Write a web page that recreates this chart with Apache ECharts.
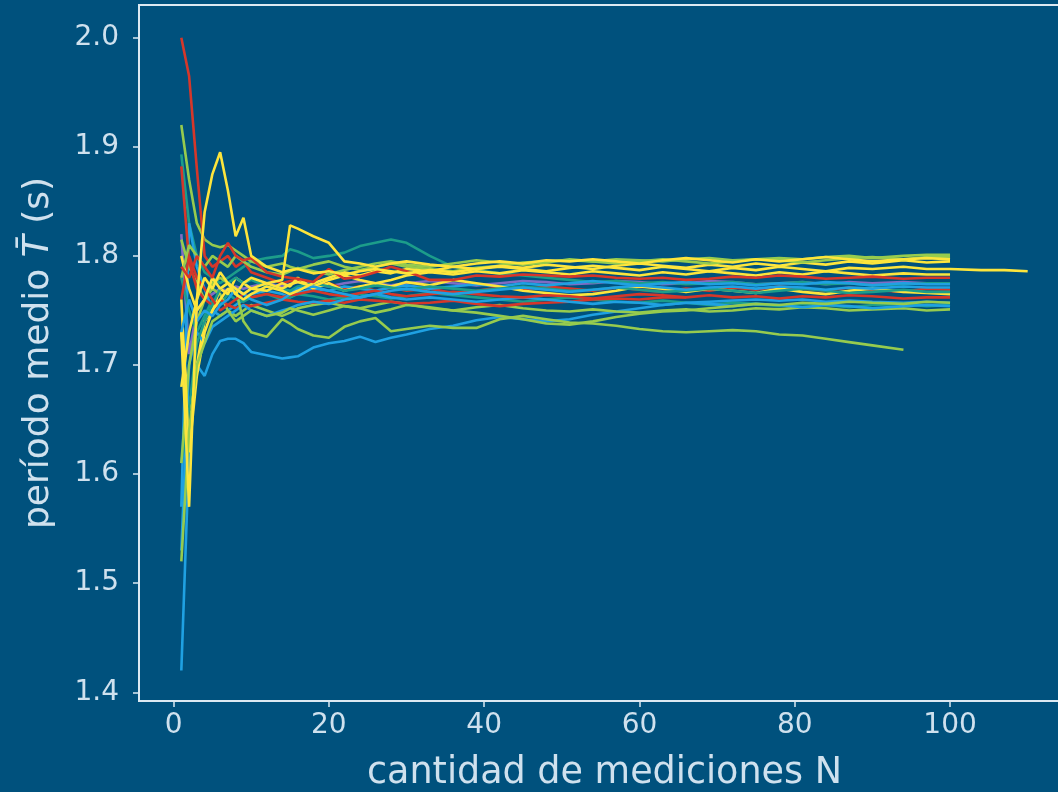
<!DOCTYPE html>
<html><head><meta charset="utf-8">
<script src="https://cdn.jsdelivr.net/npm/echarts@6/dist/echarts.min.js"></script>
<style>html,body{margin:0;padding:0;background:#00517d;}#c{width:1058px;height:792px;}</style>
</head><body><div id="c"></div>
<script>
// measurement counts N at which each running mean is sampled
const N_GRID = [1,2,3,4,5,6,7,8,9,10,
  12,14,15,16,18,20,
  22,24,26,28,30,
  33,36,39,42,45,48,51,54,57,60,
  63,66,69,72,75,78,81,84,87,90,
  94,97,100,
  104,107,110];
const X_TICKS = [0,20,40,60,80,100];
const Y_TICKS = [1.4,1.5,1.6,1.7,1.8,1.9,2.0];

const R1 = [2.000,1.965,1.880,1.800,1.790,1.795,1.800,1.790,1.795,1.785,
 1.780,1.775,1.777,1.778,1.772,1.775,
 1.770,1.772,1.768,1.771,1.768,
 1.770,1.766,1.768,1.771,1.769,1.772,1.770,1.768,1.771,1.769,
 1.767,1.770,1.768,1.771,1.769,1.772,1.770,1.768,1.771,1.769,
 1.767,1.770,1.769];
const R2 = [1.882,1.795,1.770,1.760,1.755,1.760,1.755,1.752,1.755,1.754,
 1.757,1.760,1.759,1.758,1.757,1.759,
 1.757,1.760,1.759,1.758,1.756,
 1.757,1.759,1.756,1.754,1.756,1.757,1.758,1.760,1.761,1.760,
 1.762,1.762];
const R3 = [1.790,1.780,1.800,1.790,1.780,1.800,1.812,1.800,1.796,1.798,
 1.785,1.781,1.780,1.779,1.776,1.788,
 1.779,1.781,1.785,1.790,1.786,
 1.778,1.778,1.782,1.781,1.783,1.782,1.781,1.782,1.780,1.779,
 1.780,1.778,1.779,1.781,1.780,1.782,1.781,1.779,1.780,1.781,
 1.779,1.780,1.780];
const R4 = [1.760,1.800,1.780,1.770,1.760,1.750,1.755,1.760,1.765,1.762,
 1.765,1.762,1.764,1.765,1.768,1.765,
 1.763,1.766,1.768,1.765,1.763,
 1.765,1.767,1.765,1.763,1.762,1.764,1.763,1.761,1.763,1.765,
 1.764,1.762,1.764,1.762,1.763,1.761,1.763,1.762,1.764,1.763,
 1.761,1.762,1.762];
const Y1 = [1.730,1.570,1.760,1.840,1.875,1.895,1.860,1.818,1.835,1.800,
 1.790,1.785,1.787,1.788,1.784,1.786,
 1.783,1.786,1.788,1.786,1.784,
 1.787,1.785,1.788,1.790,1.788,1.786,1.789,1.791,1.789,1.787,
 1.790,1.788,1.786,1.789,1.787,1.790,1.788,1.786,1.789,1.788,
 1.790,1.788,1.788,
 1.787,1.787,1.786];
const Y2 = [1.680,1.730,1.760,1.780,1.770,1.785,1.775,1.770,1.765,1.770,
 1.775,1.778,1.828,1.825,1.818,1.812,
 1.795,1.793,1.790,1.793,1.795,
 1.792,1.790,1.793,1.795,1.793,1.796,1.795,1.797,1.795,1.793,
 1.796,1.798,1.796,1.794,1.797,1.795,1.797,1.799,1.797,1.795,
 1.797,1.798,1.797];
const Y3 = [1.730,1.660,1.700,1.740,1.750,1.770,1.765,1.780,1.775,1.770,
 1.768,1.775,1.772,1.780,1.770,1.775,
 1.768,1.772,1.775,1.772,1.776,
 1.773,1.778,1.775,1.772,1.768,1.766,1.764,1.765,1.768,1.772,
 1.770,1.767,1.770,1.768,1.766,1.770,1.767,1.765,1.768,1.770,
 1.767,1.766,1.765];
const Y4 = [1.760,1.620,1.690,1.730,1.750,1.760,1.770,1.765,1.775,1.780,
 1.775,1.770,1.774,1.776,1.772,1.778,
 1.782,1.778,1.775,1.778,1.782,
 1.785,1.783,1.786,1.784,1.787,1.785,1.783,1.786,1.784,1.782,
 1.785,1.783,1.786,1.784,1.782,1.785,1.783,1.786,1.784,1.782,
 1.784,1.783,1.783];
const Y5 = [1.800,1.770,1.750,1.760,1.780,1.770,1.775,1.765,1.760,1.765,
 1.772,1.768,1.765,1.768,1.775,1.780,
 1.785,1.782,1.786,1.784,1.788,
 1.786,1.790,1.788,1.791,1.789,1.792,1.790,1.788,1.791,1.793,
 1.791,1.789,1.792,1.790,1.793,1.791,1.794,1.792,1.795,1.793,
 1.796,1.794,1.795];
const G1 = [1.920,1.870,1.830,1.815,1.810,1.808,1.810,1.805,1.800,1.795,
 1.790,1.793,1.790,1.788,1.792,1.795,
 1.790,1.787,1.790,1.793,1.790,
 1.788,1.786,1.789,1.791,1.794,1.795,1.796,1.795,1.797,1.796,
 1.795,1.797,1.798,1.796,1.797,1.798,1.797,1.799,1.800,1.798,
 1.800,1.801,1.801];
const G2 = [1.815,1.790,1.775,1.760,1.770,1.765,1.750,1.745,1.750,1.755,
 1.750,1.745,1.748,1.752,1.755,1.757,
 1.754,1.752,1.755,1.758,1.756,
 1.752,1.750,1.753,1.755,1.752,1.750,1.749,1.751,1.749,1.748,
 1.750,1.751,1.749,1.750,1.752,1.751,1.753,1.752,1.750,1.751,
 1.752,1.750,1.751];
const G3 = [1.610,1.700,1.740,1.760,1.775,1.780,1.775,1.770,1.740,1.730,
 1.726,1.742,1.738,1.733,1.727,1.725,
 1.735,1.740,1.743,1.731,1.733,
 1.736,1.734,1.734,1.742,1.745,1.742,1.739,1.738,1.736,1.733,
 1.731,1.730,1.731,1.732,1.731,1.728,1.727,1.724,1.721,1.718,
 1.714];
const G4 = [1.520,1.640,1.700,1.720,1.740,1.745,1.750,1.740,1.745,1.750,
 1.745,1.748,1.752,1.750,1.746,1.750,
 1.754,1.752,1.748,1.751,1.755,
 1.753,1.750,1.748,1.745,1.742,1.738,1.737,1.740,1.744,1.747,
 1.749,1.750,1.752,1.754,1.756,1.755,1.757,1.756,1.758,1.757,
 1.756,1.758,1.757];
const G5 = [1.780,1.810,1.800,1.790,1.800,1.795,1.790,1.800,1.795,1.790,
 1.785,1.783,1.786,1.789,1.786,1.783,
 1.787,1.790,1.793,1.795,1.792,
 1.790,1.793,1.796,1.794,1.792,1.794,1.797,1.795,1.793,1.795,
 1.797,1.795,1.793,1.795,1.797,1.796,1.794,1.796,1.798,1.799,
 1.797,1.799,1.799];
const T1 = [1.893,1.830,1.800,1.785,1.780,1.775,1.780,1.785,1.790,1.795,
 1.798,1.800,1.806,1.804,1.798,1.800,
 1.803,1.809,1.812,1.815,1.812,
 1.800,1.790,1.787,1.784,1.782,1.780,1.778,1.776,1.777,1.775,
 1.776,1.774,1.775,1.776,1.774,1.775,1.776,1.774,1.775,1.773,
 1.774,1.775,1.775];
const T2 = [1.780,1.750,1.730,1.745,1.760,1.755,1.765,1.760,1.758,1.762,
 1.765,1.760,1.762,1.765,1.763,1.760,
 1.762,1.765,1.763,1.761,1.763,
 1.766,1.764,1.762,1.760,1.758,1.760,1.762,1.760,1.758,1.757,
 1.759,1.757,1.755,1.757,1.756,1.754,1.756,1.755,1.753,1.755,
 1.756,1.754,1.755];
const T3 = [1.610,1.660,1.720,1.740,1.755,1.770,1.775,1.780,1.775,1.778,
 1.772,1.770,1.768,1.772,1.775,1.772,
 1.768,1.770,1.773,1.771,1.769,
 1.772,1.770,1.768,1.770,1.772,1.770,1.768,1.769,1.771,1.769,
 1.767,1.768,1.770,1.768,1.766,1.768,1.770,1.768,1.766,1.767,
 1.769,1.767,1.767];
const B1 = [1.420,1.620,1.700,1.690,1.710,1.722,1.724,1.724,1.720,1.712,
 1.709,1.706,1.707,1.708,1.716,1.720,
 1.722,1.726,1.721,1.725,1.728,
 1.733,1.736,1.741,1.744,1.742,1.740,1.742,1.746,1.749,1.752,
 1.755,1.757,1.758,1.759,1.760,1.759,1.760,1.758,1.759,1.758,
 1.757,1.758,1.757];
const B2 = [1.570,1.830,1.790,1.770,1.750,1.745,1.750,1.755,1.760,1.765,
 1.768,1.765,1.762,1.766,1.770,1.768,
 1.772,1.770,1.768,1.771,1.773,
 1.770,1.772,1.774,1.772,1.775,1.773,1.775,1.777,1.775,1.773,
 1.775,1.776,1.774,1.775,1.773,1.775,1.774,1.776,1.775,1.773,
 1.775,1.774,1.774];
const B3 = [1.530,1.700,1.730,1.720,1.735,1.740,1.745,1.750,1.755,1.750,
 1.745,1.750,1.752,1.755,1.758,1.756,
 1.760,1.762,1.765,1.762,1.760,
 1.762,1.760,1.758,1.760,1.762,1.760,1.758,1.756,1.758,1.757,
 1.755,1.757,1.756,1.754,1.756,1.755,1.753,1.755,1.754,1.752,
 1.754,1.755,1.754];
const B4 = [1.730,1.760,1.740,1.750,1.745,1.755,1.760,1.770,1.765,1.760,
 1.755,1.760,1.765,1.770,1.772,1.768,
 1.765,1.762,1.765,1.768,1.770,
 1.767,1.765,1.767,1.769,1.771,1.769,1.767,1.769,1.771,1.773,
 1.771,1.769,1.771,1.772,1.770,1.772,1.771,1.769,1.771,1.770,
 1.772,1.771,1.771];
const P1 = [1.820,1.710,1.750,1.760,1.765,1.770,1.768,1.772,1.770,1.772,
 1.775,1.772,1.774,1.776,1.774,1.772,
 1.775,1.777,1.775,1.773,1.775,
 1.777,1.775,1.773,1.775,1.777,1.776,1.774,1.775,1.777,1.776,
 1.774,1.775,1.777,1.776,1.774,1.775,1.776,1.774,1.776,1.775,
 1.776,1.775,1.775];

// styling (kept apart from the data)
const COLORS = {red:'#d5372a', yellow:'#fde53c', green:'#96cb4e', teal:'#1c9d8a', blue:'#1fa1e2', purple:'#7f6cc4'};
const DRAW = [
  [P1,'purple'],[B1,'blue'],[T1,'teal'],[G1,'green'],[R1,'red'],[B2,'blue'],
  [T2,'teal'],[G2,'green'],[R2,'red'],[Y3,'yellow'],[B3,'blue'],[T3,'teal'],
  [G3,'green'],[R4,'red'],[Y4,'yellow'],[B4,'blue'],[G4,'green'],[Y5,'yellow'],
  [G5,'green'],[R3,'red'],[Y2,'yellow'],[Y1,'yellow']
];

const FG = '#cfe1ee';
const SPINE = '#dce9f2';
const chart = echarts.init(document.getElementById('c'), null, {renderer:'canvas'});
chart.setOption({
  animation:false,
  backgroundColor:'#00517d',
  grid:{left:139, top:5, width:931, height:696, outerBoundsMode:'none', containLabel:false,
    show:true, borderColor:SPINE, borderWidth:2, backgroundColor:'#00517d'},
  xAxis:{
    type:'value', min:-4.45, max:115.45,
    axisLine:{show:true, onZero:false, lineStyle:{color:SPINE, width:2}},
    axisTick:{show:true, customValues:X_TICKS, length:6, lineStyle:{color:SPINE, width:1.5}},
    axisLabel:{customValues:X_TICKS, color:FG, fontSize:28, fontFamily:'DejaVu Sans', margin:11},
    splitLine:{show:false},
    name:'cantidad de mediciones N', nameLocation:'middle', nameGap:54,
    nameTextStyle:{color:FG, fontSize:36.5, fontFamily:'DejaVu Sans'}
  },
  yAxis:{
    type:'value', min:1.392, max:2.030,
    axisLine:{show:true, onZero:false, lineStyle:{color:SPINE, width:2}},
    axisTick:{show:true, customValues:Y_TICKS, length:6, lineStyle:{color:SPINE, width:1.5}},
    axisLabel:{customValues:Y_TICKS, color:FG, fontSize:28, fontFamily:'DejaVu Sans', margin:20,
      formatter:v=>v.toFixed(1)},
    splitLine:{show:false},
    name:'{n|período medio }{t|T\u0304}{n| (s)}', nameLocation:'middle', nameGap:82, nameRotate:90,
    nameTextStyle:{color:FG, fontSize:36, fontFamily:'DejaVu Sans',
      rich:{n:{color:FG, fontSize:36, fontFamily:'DejaVu Sans'}, t:{color:FG, fontSize:36, fontFamily:'DejaVu Sans', fontStyle:'italic'}}}
  },
  series: DRAW.map(([vals, c]) => ({
    type:'line', showSymbol:false, symbol:'none', silent:true,
    lineStyle:{color:COLORS[c], width:2.6},
    data: vals.map((v,i)=>[N_GRID[i], v])
  }))
});
</script></body></html>
